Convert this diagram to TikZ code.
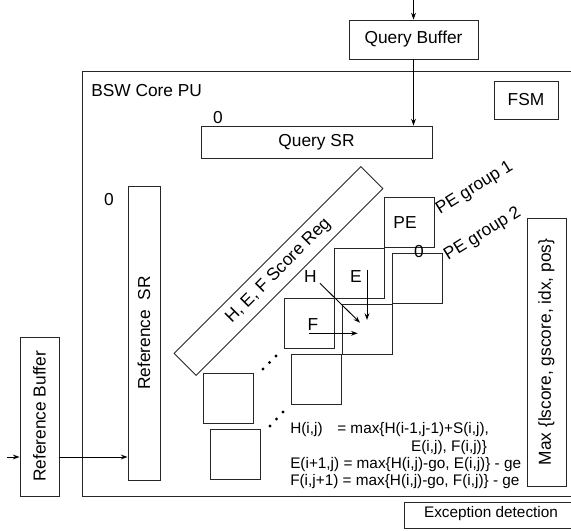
\documentclass[tikz,border=0pt]{standalone}
\usepackage{fontspec}
\setmainfont{Liberation Sans}
\usetikzlibrary{arrows.meta,calc}
\begin{document}
\begin{tikzpicture}[x=0.75pt,y=-0.75pt, font=\fontsize{13}{15}\selectfont,
  ln/.style={draw=black!85, line width=0.7pt},
  box/.style={ln, rectangle, inner sep=0pt},
  pe/.style={box, minimum width=37.5pt, minimum height=37.5pt},
  txt/.style={inner sep=0pt},
  arr/.style={draw=black, line width=0.7pt, -{Stealth[length=5pt,width=3.6pt]}},
  eq/.style={inner sep=0pt, font=\fontsize{11.5}{13}\selectfont, anchor=base west},
  dot/.style={fill=black, circle, inner sep=0pt, minimum size=2.4pt}]

\useasboundingbox (0,0) rectangle (571,531);
\clip (0,0) rectangle (571,531);

% core
\node[box, minimum width=388.5pt, minimum height=318.75pt] (core) at (341,283.5) {};
\node[txt, anchor=base west] (coretitle) at (91,96.7) {BSW Core PU};

% query side
\node[box, minimum width=96.75pt, minimum height=29.25pt] (qbuf) at (413.5,39.5) {Query Buffer};
\coordinate (qin) at (413.5,0);
\draw[arr] (qin) -- (qbuf.north);
\node[box, minimum width=48pt, minimum height=28.5pt] (fsm) at (526,100) {FSM};
\node[box, minimum width=173.25pt, minimum height=24pt] (qsr) at (316.5,142) {Query SR};
\draw[arr] (qbuf.south) -- (qbuf.south |- qsr.north);
\node[txt, anchor=base] (z1) at (218,124) {0};

% reference side
\node[box, minimum width=24pt, minimum height=220.5pt] (rsr) at (144,333) {};
\node[txt, rotate=90] (rsrt) at (rsr.center) {Reference~~SR};
\node[txt, anchor=base] (z2) at (109,205) {0};
\node[box, minimum width=29.25pt, minimum height=119.25pt] (rbuf) at (39.5,416.5) {};
\node[txt, rotate=90] (rbuft) at (rbuf.center) {Reference Buffer};
\coordinate (rin) at (7,457);
\draw[arr] (rin) -- (rin -| rbuf.west);
\draw[arr] (rbuf.east |- rin) -- (rsr.west |- rin);

% score register
\node[box, rotate=45, minimum width=198pt, minimum height=23.25pt] (hef) at (278.5,271) {H, E, F Score Reg};

% PE group 1
\node[pe] (g11) at (409,222) {};
\node[pe] (g12) at (359,273) {};
\node[pe] (g13) at (309,323) {};
\node[txt] (pet) at (405,223) {PE};
\node[txt, anchor=base west, rotate=32] (pg1) at (440,215) {PE group 1};

% PE group 2
\node[pe] (g21) at (417,278.5) {};
\node[pe] (g22) at (367,329) {};
\node[pe] (g23) at (316.5,379) {};
\node[txt, anchor=base] (z3) at (419,257) {0};
\node[txt, anchor=base west, rotate=32] (pg2) at (448,261) {PE group 2};

% far boxes
\node[pe] (ga) at (228,398.5) {};
\node[pe] (gb) at (235,454.5) {};

% dots
\node[dot] (d11) at (263,369) {};
\node[dot] (d12) at (269.5,362.5) {};
\node[dot] (d13) at (276,356) {};
\node[dot] (d21) at (270,426) {};
\node[dot] (d22) at (276.5,419) {};
\node[dot] (d23) at (283,412) {};

% H E F arrows
\node[txt] (hl) at (310.5,277) {H};
\coordinate (ha) at (320,283.3);
\coordinate (hb) at (360,322.7);
\draw[arr] (ha) -- (hb);
\node[txt] (el) at (356,277) {E};
\coordinate (ea) at (367,270);
\coordinate (eb) at (367,320);
\draw[arr] (ea) -- (eb);
\node[txt] (fl) at (313,325) {F};
\coordinate (fa) at (309.3,333.3);
\coordinate (fb) at (357.7,333.3);
\draw[arr] (fa) -- (fb);

% max box
\node[box, minimum width=29.25pt, minimum height=201pt] (maxb) at (546.5,352) {};
\node[txt, rotate=90] (maxt) at (maxb.center) {Max \{lscore, gscore, idx, pos\}};

% equations
\node[eq] (eq1) at (290,433) {H(i,j)\hspace{11pt}= max\{H(i-1,j-1)+S(i,j),};
\node[eq, anchor=base east] (eq2) at ($(eq1.base east)+(-2,18.5)$) {E(i,j), F(i,j)\}};
\node[eq] (eq3) at (290,468) {E(i+1,j) = max\{H(i,j)-go, E(i,j)\} - ge};
\node[eq] (eq4) at (290,485) {F(i,j+1) = max\{H(i,j)-go, F(i,j)\} - ge};

% exception detection
\draw[ln] (404,502) rectangle (620,528);
\node[txt, anchor=base, font=\fontsize{11.5}{13}\selectfont] (exc) at (491,517) {Exception detection};
\end{tikzpicture}
\end{document}
